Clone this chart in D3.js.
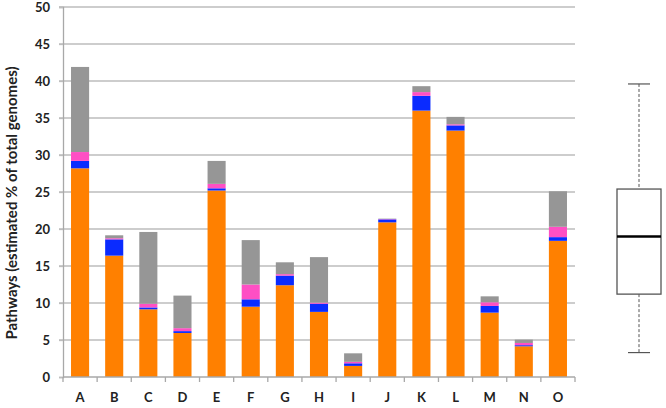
<!DOCTYPE html>
<html>
<head>
<meta charset="utf-8">
<script src="https://cdn.jsdelivr.net/npm/d3@7"></script>
<style>
  body { margin: 0; background: #fff; }
  text { font-family: Lato, "Open Sans", sans-serif; font-weight: bold; fill: #222; }
</style>
</head>
<body>
<svg id="chart" width="666" height="408"></svg>
<script>
// --- Data ---
const categories = ["A","B","C","D","E","F","G","H","I","J","K","L","M","N","O"];
const orangeVals = [28.2, 16.4, 9.15, 5.95, 25.2, 9.5, 12.4, 8.8, 1.5, 20.9, 36.0, 33.3, 8.7, 4.15, 18.4];
const blueVals   = [1.0, 2.2, 0.25, 0.25, 0.3, 1.0, 1.3, 1.1, 0.35, 0.4, 2.0, 0.7, 0.9, 0.15, 0.5];
const pinkVals   = [1.2, 0.15, 0.5, 0.4, 0.6, 2.0, 0.2, 0.15, 0.2, 0.05, 0.5, 0.15, 0.5, 0.3, 1.4];
const grayVals   = [11.5, 0.4, 9.7, 4.4, 3.1, 6.0, 1.6, 6.15, 1.15, 0.05, 0.8, 1.0, 0.8, 0.45, 4.8];
const yTicks = [0, 5, 10, 15, 20, 25, 30, 35, 40, 45, 50];
// box plot summary: min, q1, median, q3, max
const boxStats = [3.3, 11.2, 19.0, 25.4, 39.6];

const seriesKeys = ["orange", "blue", "pink", "gray"];
const colors = { orange: "#FF8000", blue: "#0A2BFF", pink: "#FF4FC4", gray: "#969696" };

const rows = categories.map((c, i) => ({
    cat: c, orange: orangeVals[i], blue: blueVals[i], pink: pinkVals[i], gray: grayVals[i]
}));

// --- Setup ---
const svg = d3.select("#chart");
const margin = { left: 63, right: 91, top: 7, bottom: 31 };
const W = 666, H = 408;

const x = d3.scaleBand().domain(categories)
    .range([margin.left, W - margin.right]).paddingInner(0.47).paddingOuter(0.235);
const y = d3.scaleLinear().domain([0, 50]).range([H - margin.bottom, margin.top]);

// gridlines
svg.append("g")
    .selectAll("line")
    .data(yTicks.slice(1))
    .join("line")
    .attr("x1", margin.left - 4)
    .attr("x2", W - margin.right)
    .attr("y1", d => y(d))
    .attr("y2", d => y(d))
    .attr("stroke", "#BDBDBD")
    .attr("stroke-width", 1.3);

// y axis
const yAxis = svg.append("g")
    .attr("transform", `translate(${margin.left},0)`)
    .call(d3.axisLeft(y).tickValues(yTicks).tickSize(4).tickPadding(9));
yAxis.select(".domain").attr("stroke", "#A8A8A8").attr("stroke-width", 1.3);
yAxis.selectAll(".tick line").attr("stroke", "#BDBDBD").attr("stroke-width", 1.3);
yAxis.selectAll("text").attr("font-size", 13).style("font-family", "Lato, sans-serif");

// stacked bars
const stack = d3.stack().keys(seriesKeys)(rows);
svg.append("g")
    .selectAll("g")
    .data(stack)
    .join("g")
    .attr("fill", d => colors[d.key])
    .selectAll("rect")
    .data(d => d)
    .join("rect")
    .attr("x", d => x(d.data.cat))
    .attr("width", x.bandwidth())
    .attr("y", d => y(d[1]))
    .attr("height", d => y(d[0]) - y(d[1]));

// x axis with ticks at band boundaries
const xg = svg.append("g");
const baseY = y(0);
xg.append("line")
    .attr("x1", margin.left).attr("x2", W - margin.right)
    .attr("y1", baseY).attr("y2", baseY)
    .attr("stroke", "#A8A8A8").attr("stroke-width", 1.3);
const bounds = d3.range(categories.length + 1).map(i => margin.left + i * (W - margin.left - margin.right) / categories.length);
xg.selectAll("line.tk")
    .data(bounds)
    .join("line")
    .attr("class", "tk")
    .attr("x1", d => d).attr("x2", d => d)
    .attr("y1", baseY).attr("y2", baseY + 5)
    .attr("stroke", "#A8A8A8").attr("stroke-width", 1.3);
xg.selectAll("text")
    .data(categories)
    .join("text")
    .attr("x", d => x(d) + x.bandwidth() / 2)
    .attr("y", 402)
    .attr("text-anchor", "middle")
    .attr("font-size", 13)
    .text(d => d);

// y label
svg.append("text")
    .attr("transform", "translate(17,203) rotate(-90)")
    .attr("text-anchor", "middle")
    .attr("font-size", 15)
    .text("Pathways (estimated % of total genomes)");

// --- Box plot ---
const bx = 639, bw = 44, capW = 22;
const bp = svg.append("g");
bp.append("line")
    .attr("x1", bx).attr("x2", bx)
    .attr("y1", y(boxStats[4])).attr("y2", y(boxStats[3]))
    .attr("stroke", "#555").attr("stroke-dasharray", "3,2").attr("stroke-width", 1);
bp.append("line")
    .attr("x1", bx).attr("x2", bx)
    .attr("y1", y(boxStats[1])).attr("y2", y(boxStats[0]))
    .attr("stroke", "#555").attr("stroke-dasharray", "3,2").attr("stroke-width", 1);
[boxStats[0], boxStats[4]].forEach(v => {
    bp.append("line")
        .attr("x1", bx - capW / 2).attr("x2", bx + capW / 2)
        .attr("y1", y(v)).attr("y2", y(v))
        .attr("stroke", "#555").attr("stroke-width", 1.2);
});
bp.append("rect")
    .attr("x", bx - bw / 2).attr("width", bw)
    .attr("y", y(boxStats[3])).attr("height", y(boxStats[1]) - y(boxStats[3]))
    .attr("fill", "#fff").attr("stroke", "#555").attr("stroke-width", 1.3);
bp.append("line")
    .attr("x1", bx - bw / 2).attr("x2", bx + bw / 2)
    .attr("y1", y(boxStats[2])).attr("y2", y(boxStats[2]))
    .attr("stroke", "#000").attr("stroke-width", 2.5);
</script>
</body>
</html>
